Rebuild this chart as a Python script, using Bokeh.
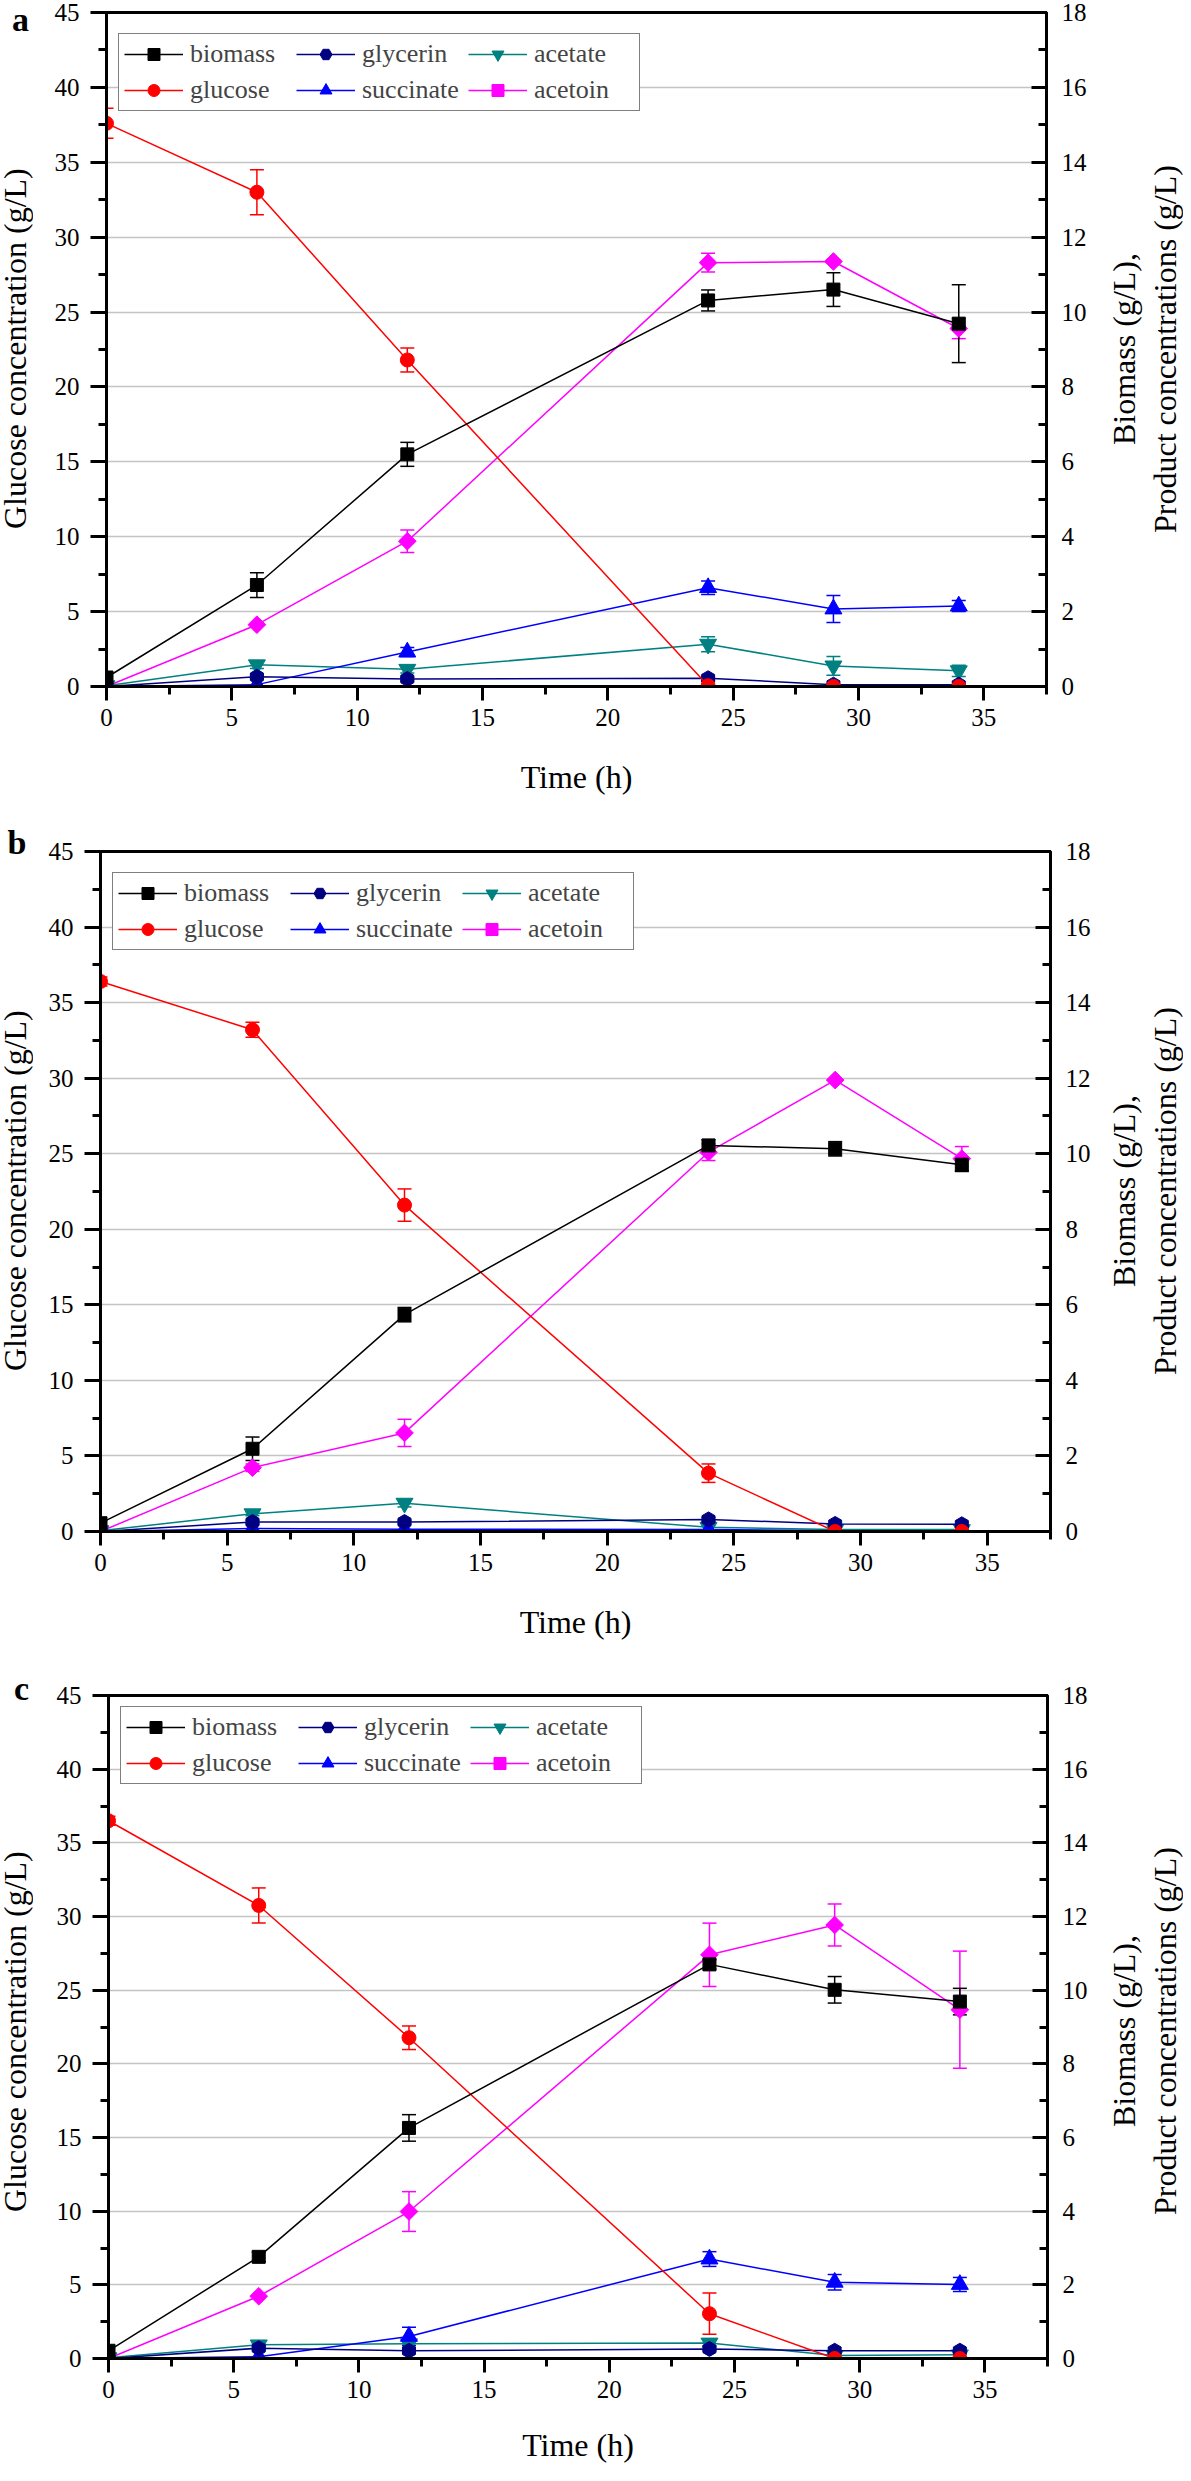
import math
from bokeh.plotting import figure
from bokeh.models import (Range1d, LinearAxis, SingleIntervalTicker, Whisker, TeeHead,
                          ColumnDataSource, Legend, LegendItem, Div)
from bokeh.layouts import column, row
from bokeh.embed import file_html
from bokeh.resources import INLINE

FONT = "Liberation Serif"

# ---------------- data ----------------
time_h = [0, 6, 12, 24, 29, 34]
x_axis_title = "Time (h)"
left_axis_title = "Glucose concentration (g/L)"
right_axis_title_1 = "Biomass (g/L),"
right_axis_title_2 = "Product concentrations (g/L)"
series_order = ["biomass", "glycerin", "acetate", "glucose", "succinate", "acetoin"]

# panel a (glucose on left axis, others on right axis, g/L)
a_biomass = [0.24, 2.71, 6.20, 10.31, 10.60, 9.69]
a_biomass_err = [0.0, 0.33, 0.32, 0.28, 0.45, 1.04]
a_glucose = [37.6, 33.0, 21.8, 0.05, 0.0, 0.0]
a_glucose_err = [1.0, 1.5, 0.8, 0.0, 0.0, 0.0]
a_glycerin = [0.0, 0.26, 0.20, 0.22, 0.05, 0.05]
a_glycerin_err = [0.0, 0.05, 0.05, 0.05, 0.0, 0.0]
a_succinate = [0.0, 0.05, 0.92, 2.64, 2.07, 2.15]
a_succinate_err = [0.0, 0.0, 0.12, 0.18, 0.36, 0.15]
a_acetate = [0.02, 0.58, 0.46, 1.13, 0.55, 0.42]
a_acetate_err = [0.0, 0.1, 0.1, 0.2, 0.25, 0.15]
a_acetoin = [0.0, 1.65, 3.88, 11.32, 11.35, 9.56]
a_acetoin_err = [0.0, 0.0, 0.3, 0.25, 0.05, 0.27]

# panel b
b_biomass = [0.22, 2.19, 5.74, 10.22, 10.13, 9.71]
b_biomass_err = [0.0, 0.31, 0.19, 0.15, 0.19, 0.18]
b_glucose = [36.4, 33.2, 21.6, 3.86, 0.0, 0.0]
b_glucose_err = [0.3, 0.5, 1.07, 0.61, 0.0, 0.0]
b_glycerin = [0.0, 0.25, 0.25, 0.32, 0.20, 0.19]
b_glycerin_err = [0.0, 0.05, 0.05, 0.05, 0.0, 0.0]
b_succinate = [0.0, 0.08, 0.06, 0.05, 0.02, 0.02]
b_succinate_err = [0.0, 0.0, 0.0, 0.0, 0.0, 0.0]
b_acetate = [0.02, 0.47, 0.75, 0.11, 0.05, 0.05]
b_acetate_err = [0.0, 0.05, 0.1, 0.0, 0.0, 0.0]
b_acetoin = [0.0, 1.69, 2.61, 10.04, 11.95, 9.87]
b_acetoin_err = [0.0, 0.1, 0.36, 0.22, 0.0, 0.32]

# panel c
c_biomass = [0.21, 2.76, 6.26, 10.70, 10.01, 9.69]
c_biomass_err = [0.0, 0.13, 0.36, 0.13, 0.36, 0.36]
c_glucose = [36.5, 30.75, 21.77, 3.04, 0.0, 0.0]
c_glucose_err = [0.3, 1.19, 0.8, 1.4, 0.0, 0.0]
c_glycerin = [0.0, 0.28, 0.21, 0.26, 0.21, 0.21]
c_glycerin_err = [0.0, 0.05, 0.05, 0.05, 0.0, 0.0]
c_succinate = [0.0, 0.05, 0.60, 2.70, 2.07, 2.01]
c_succinate_err = [0.0, 0.0, 0.25, 0.2, 0.21, 0.19]
c_acetate = [0.02, 0.37, 0.40, 0.42, 0.08, 0.10]
c_acetate_err = [0.0, 0.05, 0.05, 0.08, 0.0, 0.0]
c_acetoin = [0.0, 1.69, 3.99, 10.96, 11.77, 9.47]
c_acetoin_err = [0.0, 0.0, 0.54, 0.86, 0.57, 1.59]

panels = {
    "a": dict(biomass=(a_biomass, a_biomass_err), glucose=(a_glucose, a_glucose_err),
              glycerin=(a_glycerin, a_glycerin_err), succinate=(a_succinate, a_succinate_err),
              acetate=(a_acetate, a_acetate_err), acetoin=(a_acetoin, a_acetoin_err)),
    "b": dict(biomass=(b_biomass, b_biomass_err), glucose=(b_glucose, b_glucose_err),
              glycerin=(b_glycerin, b_glycerin_err), succinate=(b_succinate, b_succinate_err),
              acetate=(b_acetate, b_acetate_err), acetoin=(b_acetoin, b_acetoin_err)),
    "c": dict(biomass=(c_biomass, c_biomass_err), glucose=(c_glucose, c_glucose_err),
              glycerin=(c_glycerin, c_glycerin_err), succinate=(c_succinate, c_succinate_err),
              acetate=(c_acetate, c_acetate_err), acetoin=(c_acetoin, c_acetoin_err)),
}

# ---------------- styles / layout ----------------
STYLE = {
    "biomass": dict(color="#000000", marker="square", size=13, angle=0.0),
    "glucose": dict(color="#FF0000", marker="circle", size=14, angle=0.0),
    "glycerin": dict(color="#000080", marker="hex", size=15, angle=math.pi / 6),
    "succinate": dict(color="#0000FF", marker="triangle", size=17, angle=0.0),
    "acetate": dict(color="#008080", marker="inverted_triangle", size=17, angle=0.0),
    "acetoin": dict(color="#FF00FF", marker="square", size=12.5, angle=math.pi / 4),
}
DRAW_ORDER = ["acetoin", "acetate", "succinate", "glycerin", "glucose", "biomass"]

# page geometry (px)
PAGE_X0 = 8
WL = 45            # left text column
WR = 86            # right text column
FIG_X0 = PAGE_X0 + WL
FIG_X1 = 1105
FIG_W = FIG_X1 - FIG_X0
GEOM = {
    # frame left/right/top/bottom, figure top, figure height, x-title standoff,
    # panel letter centre x / baseline y, left title centre x
    "a": dict(fl=114, fr=1054, ft=20, fb=694, top=8, h=822, bst=30, lx=29.5, ly=39, tx=21),
    "b": dict(fl=107, fr=1058, ft=859, fb=1539, top=830, h=835, bst=30, lx=25, ly=862, tx=18),
    "c": dict(fl=116, fr=1055, ft=1703, fb=2376, top=1665, h=808, bst=26, lx=31.5, ly=1708, tx=21),
}
RIGHT_TITLE_CX = 1152.5
RIGHT_LINE_H = 41


def style_axis(ax, tick_out, tick_in, minor_out, minor_in, label_standoff, axis_standoff):
    ax.axis_line_width = 3
    ax.axis_line_color = "black"
    ax.major_tick_line_width = 3
    ax.minor_tick_line_width = 3
    ax.major_tick_line_color = "black"
    ax.minor_tick_line_color = "black"
    ax.major_tick_out = tick_out
    ax.major_tick_in = tick_in
    ax.minor_tick_out = minor_out
    ax.minor_tick_in = minor_in
    ax.major_label_text_font = FONT
    ax.major_label_text_font_size = "25px"
    ax.major_label_text_color = "black"
    ax.major_label_standoff = label_standoff
    ax.axis_label_text_font = FONT
    ax.axis_label_text_font_size = "32px"
    ax.axis_label_text_font_style = "normal"
    ax.axis_label_text_color = "black"
    ax.axis_label_standoff = axis_standoff


def build_fig(tag):
    g = GEOM[tag]
    data = panels[tag]
    frame_h = g["fb"] - g["ft"]
    p = figure(width=FIG_W, height=g["h"],
               x_range=Range1d(0, 37.5), y_range=Range1d(0, 45),
               output_backend="svg", toolbar_location=None,
               min_border_left=g["fl"] - FIG_X0, min_border_right=FIG_X1 - g["fr"],
               min_border_top=g["ft"] - g["top"],
               min_border_bottom=g["h"] - (g["fb"] - g["top"]),
               x_axis_label=x_axis_title)
    p.extra_y_ranges = {"right": Range1d(0, 18)}
    p.outline_line_color = "black"
    p.outline_line_width = 3
    p.background_fill_color = "white"
    p.border_fill_color = "white"

    xt = SingleIntervalTicker(interval=5, num_minor_ticks=2)
    yt = SingleIntervalTicker(interval=5, num_minor_ticks=2)
    p.xaxis.ticker = xt
    ax_l = p.yaxis[0]
    ax_l.ticker = yt
    p.xgrid.visible = False
    p.ygrid.ticker = yt
    p.ygrid.grid_line_color = "#C4C4C4"
    p.ygrid.grid_line_width = 1.5

    style_axis(p.xaxis[0], 14, 0, 8, 0, 8, g["bst"])
    style_axis(ax_l, 16, 0, 8, 0, 11, 0)

    ax_r = LinearAxis(y_range_name="right",
                      ticker=SingleIntervalTicker(interval=2, num_minor_ticks=2))
    style_axis(ax_r, 0, 15, 0, 8, 15, 0)
    p.add_layout(ax_r, "right")

    lines, scats = {}, {}
    for name in DRAW_ORDER:
        st = STYLE[name]
        yv, ev = data[name]
        rng = "default" if name == "glucose" else "right"
        src = ColumnDataSource(dict(t=time_h, y=yv))
        lines[name] = p.line("t", "y", source=src, line_color=st["color"], line_width=1.5,
                             y_range_name=rng)
        et = [t for t, e in zip(time_h, ev) if e > 0]
        elo = [v - e for v, e in zip(yv, ev) if e > 0]
        ehi = [v + e for v, e in zip(yv, ev) if e > 0]
        if et:
            esrc = ColumnDataSource(dict(t=et, lo=elo, hi=ehi))
            w = Whisker(source=esrc, base="t", lower="lo", upper="hi", y_range_name=rng,
                        line_color=st["color"], line_width=1.5,
                        upper_head=TeeHead(size=14, line_color=st["color"], line_width=1.5),
                        lower_head=TeeHead(size=14, line_color=st["color"], line_width=1.5))
            p.add_layout(w)
        scats[name] = p.scatter("t", "y", source=src, marker=st["marker"], size=st["size"],
                                angle=st["angle"], fill_color=st["color"],
                                line_color=st["color"], y_range_name=rng)

    items = [LegendItem(label=n, renderers=[lines[n], scats[n]]) for n in series_order]
    leg = Legend(items=items, orientation="horizontal", ncols=3,
                 location=(12, frame_h - 23 - 76),
                 label_text_font=FONT, label_text_font_size="26px",
                 glyph_width=59, glyph_height=30, label_standoff=7, label_height=28,
                 label_width=100, spacing=6, padding=5, margin=0,
                 border_line_color="black", border_line_width=1.8,
                 background_fill_color="white", background_fill_alpha=1.0)
    p.add_layout(leg)
    return p


def left_div(tag):
    g = GEOM[tag]
    h = g["h"]
    letter_left = g["lx"] - 9.5 - PAGE_X0
    letter_top = g["ly"] - g["top"] - 21.5     # line-height 20px -> baseline at +21.5
    title_left = max(g["tx"] - PAGE_X0 - 17, -2)
    title_top = g["ft"] - g["top"]
    title_h = g["fb"] - g["ft"]
    html = (
        '<div style="position:relative;width:%dpx;height:%dpx;overflow:visible;">' % (WL, h)
        + '<div style="position:absolute;left:%.1fpx;top:%.1fpx;font-family:\'Liberation Serif\';'
          'font-weight:bold;font-size:34px;line-height:20px;color:#000;">%s</div>'
          % (letter_left, letter_top, tag)
        + '<div style="position:absolute;left:%.1fpx;top:%dpx;width:34px;height:%dpx;'
          'writing-mode:vertical-rl;transform:rotate(180deg);text-align:center;'
          'font-family:\'Liberation Serif\';font-size:32px;line-height:34px;white-space:nowrap;'
          'color:#000;">%s</div>' % (title_left, title_top, title_h, left_axis_title)
        + '</div>'
    )
    return Div(text=html, width=WL, height=h, margin=(0, 0, 0, 0))


def right_div(tag):
    g = GEOM[tag]
    h = g["h"]
    title_left = RIGHT_TITLE_CX - RIGHT_LINE_H - FIG_X1
    title_top = g["ft"] - g["top"]
    title_h = g["fb"] - g["ft"]
    html = (
        '<div style="position:relative;width:%dpx;height:%dpx;overflow:visible;">' % (WR, h)
        + '<div style="position:absolute;left:%.1fpx;top:%dpx;width:%dpx;height:%dpx;'
          'writing-mode:vertical-rl;transform:rotate(180deg);text-align:center;'
          'font-family:\'Liberation Serif\';font-size:32px;line-height:%dpx;white-space:nowrap;'
          'color:#000;">%s<br>%s</div>'
          % (title_left, title_top, 2 * RIGHT_LINE_H, title_h, RIGHT_LINE_H,
             right_axis_title_1, right_axis_title_2)
        + '</div>'
    )
    return Div(text=html, width=WR, height=h, margin=(0, 0, 0, 0))


rows = [row(left_div(t), build_fig(t), right_div(t), spacing=0) for t in ["a", "b", "c"]]
layout = column(*rows, spacing=0)
open("out.html", "w").write(file_html(layout, INLINE))
